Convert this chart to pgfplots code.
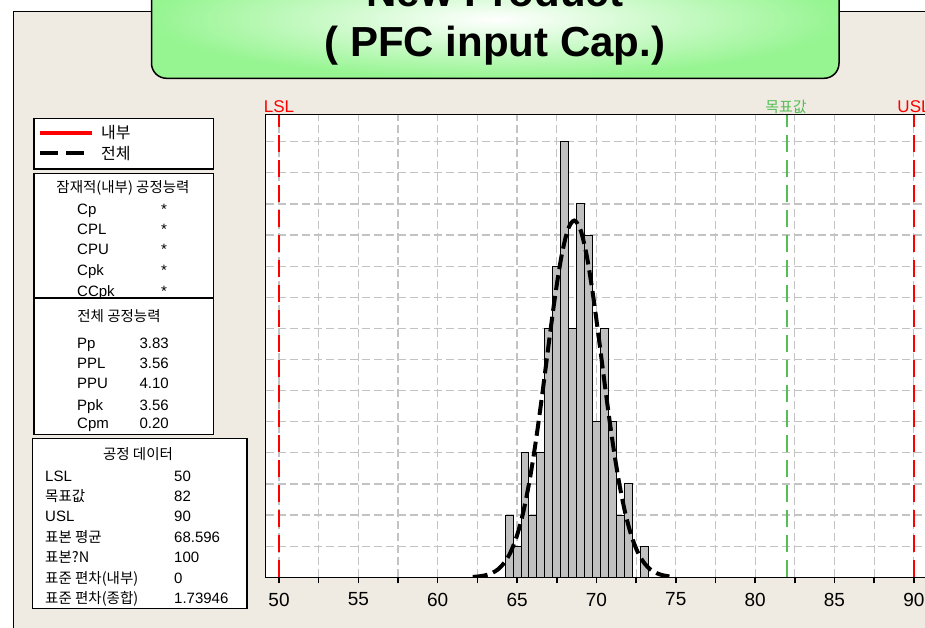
\documentclass[border=0pt]{standalone}
\usepackage{fontspec}
\setmainfont{Liberation Sans}
\newfontfamily\kr{Noto Sans CJK KR}
\usepackage{pgfplots}
\pgfplotsset{compat=1.18}
\definecolor{bg}{RGB}{239,235,226}
\definecolor{gridc}{RGB}{195,195,195}
\definecolor{barc}{RGB}{192,192,192}
\definecolor{tgt}{RGB}{85,190,85}
\definecolor{ttlg}{RGB}{150,245,145}
\begin{document}
\begin{tikzpicture}[x=1pt,y=1pt]
\useasboundingbox (0,0) rectangle (925,-628);
\clip (0,0) rectangle (925,-628);
\fill[white] (0,0) rectangle (925,-628);
\filldraw[fill=bg, draw=black, line width=1.2pt] (13.5,-11.7) rectangle (960,-660);
% title box
\shade[rounded corners=15pt, inner color=white, outer color=ttlg] (151.5,40) rectangle (839,-78.3);
\draw[rounded corners=15pt, line width=1.5pt] (151.5,40) rectangle (839,-78.3);
\node[font=\fontsize{42}{50}\selectfont\bfseries, anchor=base, inner sep=0pt] at (495,-7) {New Product};
\node[font=\fontsize{42}{50}\selectfont\bfseries, anchor=base, inner sep=0pt] at (495,-57) {( PFC input Cap.)};
% legend box
\filldraw[fill=white, draw=black, line width=1.5pt] (34,-118.3) rectangle (213.7,-169);
\draw[red, line width=4pt] (40,-132.7) -- (92,-132.7);
\draw[black, line width=4pt, dash pattern=on 18pt off 8pt] (40,-153.3) -- (84,-153.3);
\node[anchor=west, inner sep=0pt, font=\kr\fontsize{16}{18}\selectfont] at (101,-132.7) {내부};
\node[anchor=west, inner sep=0pt, font=\kr\fontsize{16}{18}\selectfont] at (101,-153.3) {전체};
% panel 2
\filldraw[fill=white, draw=black, line width=1.5pt] (34,-173.3) rectangle (213.7,-298);
\node[anchor=center, inner sep=0pt, font=\kr\fontsize{14.5}{16}\selectfont] at (123,-188) {잠재적(내부) 공정능력};
\begin{scope}[every node/.style={anchor=base west, inner sep=0pt, font=\fontsize{15}{17}\selectfont}]
\node at (77,-214.4) {Cp};   \node at (161,-214.4) {*};
\node at (77,-234.7) {CPL};  \node at (161,-234.7) {*};
\node at (77,-254.9) {CPU};  \node at (161,-254.9) {*};
\node at (77,-275.4) {Cpk};  \node at (161,-275.4) {*};
\node at (77,-296.4) {CCpk}; \node at (161,-296.4) {*};
\end{scope}
% panel 3
\filldraw[fill=white, draw=black, line width=1.5pt] (34,-298) rectangle (213.7,-434.3);
\node[anchor=center, inner sep=0pt, font=\kr\fontsize{14.5}{16}\selectfont] at (119,-316) {전체 공정능력};
\begin{scope}[every node/.style={anchor=base west, inner sep=0pt, font=\fontsize{15}{17}\selectfont}]
\node at (77,-348.1) {Pp};   \node at (139.3,-348.1) {3.83};
\node at (77,-368.1) {PPL};  \node at (139.3,-368.1) {3.56};
\node at (77,-388.4) {PPU};  \node at (139.3,-388.4) {4.10};
\node at (77,-410.1) {Ppk};  \node at (139.3,-410.1) {3.56};
\node at (77,-428.7) {Cpm};  \node at (139.3,-428.7) {0.20};
\end{scope}
% panel 4
\filldraw[fill=white, draw=black, line width=1.5pt] (32.3,-438.3) rectangle (247,-608.3);
\node[anchor=center, inner sep=0pt, font=\kr\fontsize{14.5}{16}\selectfont] at (138,-454) {공정 데이터};
\begin{scope}[every node/.style={anchor=base west, inner sep=0pt, font=\fontsize{15}{17}\selectfont}]
\node at (45,-481.1) {LSL};                 \node at (174,-481.1) {50};
\node[font=\kr\fontsize{14.5}{16}\selectfont] at (45,-501.4) {목표값};  \node at (174,-501.4) {82};
\node at (45,-521.7) {USL};                 \node at (174,-521.7) {90};
\node[font=\kr\fontsize{14.5}{16}\selectfont] at (45,-542.4) {표본 평균}; \node at (174,-542.4) {68.596};
\node[font=\kr\fontsize{14.5}{16}\selectfont] at (45,-562.7) {표본?N};   \node at (174,-562.7) {100};
\node[font=\kr\fontsize{14.5}{16}\selectfont] at (45,-583.1) {표준 편차(내부)}; \node at (174,-583.1) {0};
\node[font=\kr\fontsize{14.5}{16}\selectfont] at (45,-603.4) {표준 편차(종합)}; \node at (174,-603.4) {1.73946};
\end{scope}
% spec labels
\node[anchor=base, inner sep=0pt, red, font=\fontsize{17}{19}\selectfont] at (279,-112.5) {LSL};
\node[anchor=base, inner sep=0pt, tgt, font=\kr\fontsize{15}{17}\selectfont] at (786,-112.5) {목표값};
\node[anchor=base, inner sep=0pt, red, font=\fontsize{17}{19}\selectfont] at (914,-112.5) {USL};
% axis
\begin{axis}[
  at={(265.7pt,-577.3pt)}, anchor=south west,
  width=664pt, height=462.6pt, scale only axis,
  xmin=49.16, xmax=91, ymin=0, ymax=14.87,
  axis background/.style={fill=white},
  axis line style={line width=1.5pt, black},
  xtick={50,52.5,...,90},
  xticklabels={50,,55,,60,,65,,70,,75,,80,,85,,90},
  ytick={1,2,...,14},
  yticklabels={},
  y tick style={draw=none},
  xtick pos=left,
  tick align=outside,
  major tick length=6pt,
  x tick style={line width=1.5pt, black},
  xmajorgrids, ymajorgrids,
  grid style={gridc, line width=1.2pt, dash pattern=on 8pt off 4pt},
  major grid style={gridc, line width=1.2pt, dash pattern=on 8pt off 4pt},
  xticklabel style={font=\fontsize{19}{21}\selectfont, yshift=-6pt},
  /pgf/number format/assume math mode=true,
]
\addplot[ybar interval, fill=barc, draw=black, line width=1pt] coordinates {
(64.25,2) (64.75,1) (65.25,4) (65.75,2) (66.25,4) (66.75,8) (67.25,10)
(67.75,14) (68.25,8) (68.75,12) (69.25,11) (69.75,5) (70.25,8) (70.75,5)
(71.25,2) (71.75,3) (72.25,0) (72.75,1) (73.25,0)};
\addplot[red, line width=1.5pt, dash pattern=on 17pt off 8pt] coordinates {(50,0) (50,14.87)};
\addplot[tgt, line width=1.5pt, dash pattern=on 17pt off 8pt] coordinates {(82,0) (82,14.87)};
\addplot[red, line width=1.5pt, dash pattern=on 17pt off 8pt] coordinates {(90,0) (90,14.87)};
\addplot[black, line width=4pt, dash pattern=on 15pt off 6pt, smooth] coordinates {
(62.2,0.013) (62.6,0.030) (63.0,0.065) (63.4,0.132) (63.8,0.256) (64.2,0.471)
(64.6,0.819) (65.0,1.353) (65.4,2.120) (65.8,3.150) (66.2,4.441) (66.6,5.937)
(67.0,7.529) (67.4,9.054) (67.8,10.328) (68.2,11.175) (68.6,11.468) (69.0,11.163)
(69.4,10.306) (69.8,9.025) (70.2,7.497) (70.6,5.906) (71.0,4.413) (71.4,3.127)
(71.8,2.102) (72.2,1.341) (72.6,0.811) (73.0,0.465) (73.4,0.253) (73.8,0.131)
(74.2,0.064) (74.6,0.030)};
\end{axis}
\end{tikzpicture}
\end{document}
